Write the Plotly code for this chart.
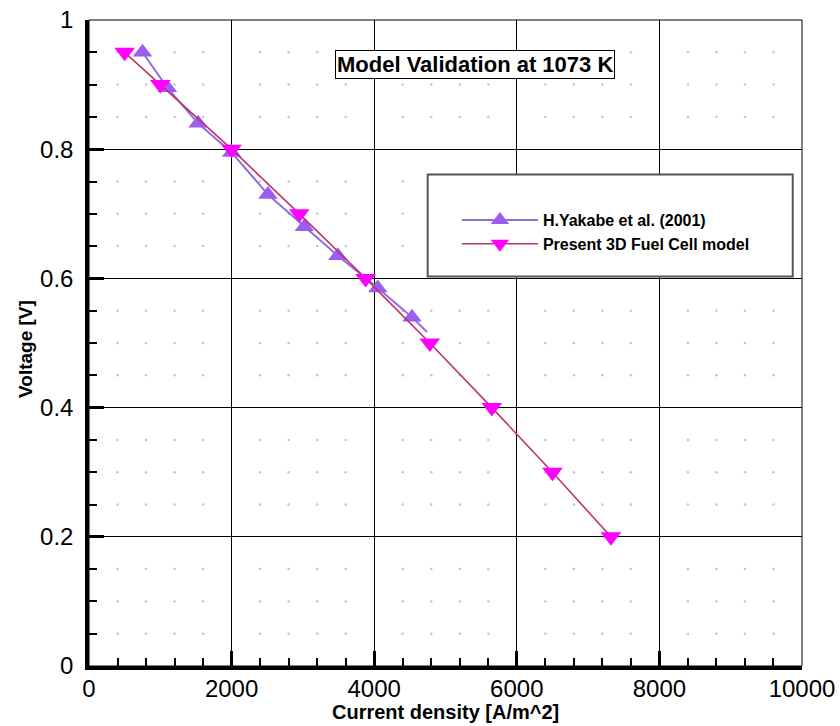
import numpy as np
import plotly.graph_objects as go

# ---- data ----
present_x = [500, 1000, 2000, 2950, 3880, 4780, 5650, 6500, 7320]
present_y = [0.95, 0.90, 0.80, 0.70, 0.60, 0.50, 0.40, 0.30, 0.20]

yakabe_x = [750, 1100, 1530, 2000, 2510, 3020, 3490, 4050, 4530]
yakabe_y = [0.95, 0.895, 0.84, 0.795, 0.73, 0.68, 0.635, 0.585, 0.54]
# end of the drawn Yakabe curve (no marker)
yakabe_end_x = [4740]
yakabe_end_y = [0.517]

x_ticks = [0, 2000, 4000, 6000, 8000, 10000]
y_ticks = [0, 0.2, 0.4, 0.6, 0.8, 1.0]

title_text = "Model Validation at 1073 K"
x_title = "Current density [A/m^2]"
y_title = "Voltage [V]"

FONT = "Liberation Sans, Arial, sans-serif"
YAK_LINE = "#8f6ee0"
YAK_MARK = "#9b5ef0"
PRE_LINE = "#c3306a"
PRE_MARK = "#ff00ff"

fig = go.Figure()

# faint dot grid at minor-tick intersections
mx = [v for v in np.arange(400, 10000, 400) if v % 2000 != 0]
my = [round(v, 2) for v in np.arange(0.05, 1.0, 0.05) if abs(v / 0.2 - round(v / 0.2)) > 1e-6]
gx, gy = np.meshgrid(mx, my)
fig.add_trace(go.Scatter(x=gx.ravel(), y=gy.ravel(), mode="markers",
                         marker=dict(size=2.5, color="#c4c4c4"),
                         hoverinfo="skip", showlegend=False))

# Yakabe curve extension past last marker
fig.add_trace(go.Scatter(x=[yakabe_x[-1]] + yakabe_end_x, y=[yakabe_y[-1]] + yakabe_end_y,
                         mode="lines", line=dict(color=YAK_LINE, width=2),
                         showlegend=False, hoverinfo="skip"))
fig.add_trace(go.Scatter(x=yakabe_x, y=yakabe_y, mode="lines+markers",
                         name="H.Yakabe et al. (2001)",
                         line=dict(color=YAK_LINE, width=2),
                         marker=dict(symbol="triangle-up", size=17, color=YAK_MARK,
                                     line=dict(width=0))))
fig.add_trace(go.Scatter(x=present_x, y=present_y, mode="lines+markers",
                         name="Present 3D Fuel Cell model",
                         line=dict(color=PRE_LINE, width=1.6),
                         marker=dict(symbol="triangle-down", size=18, color=PRE_MARK,
                                     line=dict(width=0))))

axis_common = dict(
    automargin=False,
    showgrid=True, gridcolor="black", gridwidth=1,
    zeroline=False, showline=True, linecolor="black", linewidth=3.5,
    ticks="inside", ticklen=15, tickwidth=3, tickcolor="black",
    tickfont=dict(family=FONT, size=24, color="black"),
)

fig.update_xaxes(range=[0, 10000], tickvals=x_ticks, tickformat="d",
                 ticklabelstandoff=-2,
                 minor=dict(dtick=400, ticks="inside", ticklen=8, tickwidth=1.5,
                            tickcolor="black", showgrid=False),
                 **axis_common)
fig.update_yaxes(range=[0, 1], tickvals=y_ticks,
                 ticklabelstandoff=7,
                 minor=dict(dtick=0.05, ticks="inside", ticklen=8, tickwidth=1.5,
                            tickcolor="black", showgrid=False),
                 **axis_common)

# axis titles
fig.add_annotation(x=0.5007, y=-0.0712, xref="paper", yref="paper", text=x_title,
                   showarrow=False, xanchor="center", yanchor="middle",
                   font=dict(family=FONT, size=20, color="black", weight="bold"))
fig.add_annotation(x=-0.0898, y=0.4907, xref="paper", yref="paper", text=y_title,
                   showarrow=False, xanchor="center", yanchor="middle", textangle=-90,
                   font=dict(family=FONT, size=19, color="black", weight="bold"))

# plot frame (thin top/right)
fig.add_shape(type="rect", xref="paper", yref="paper", x0=0, x1=1, y0=0, y1=1,
              line=dict(color="black", width=1), layer="below")
# legend box
fig.add_shape(type="rect", xref="paper", yref="paper", x0=0.475, x1=0.987, y0=0.603, y1=0.761,
              line=dict(color="#555555", width=2), fillcolor="white", layer="above")

fig.add_annotation(x=5410, y=0.931, xref="x", yref="y", text=title_text, showarrow=False,
                   font=dict(family=FONT, size=22, color="black", weight="bold"),
                   bgcolor="white", bordercolor="black", borderwidth=1, borderpad=1)

fig.update_layout(
    width=840, height=726,
    margin=dict(l=89, r=38, t=20, b=60, autoexpand=False),
    paper_bgcolor="white", plot_bgcolor="white",
    showlegend=True,
    legend=dict(x=0.516, y=0.7166, xanchor="left", yanchor="top",
                bgcolor="rgba(0,0,0,0)", borderwidth=0, itemwidth=76,
                font=dict(family=FONT, size=16, color="black", weight="bold"),
                tracegroupgap=0),
)

fig.write_html("out.html", config={"displayModeBar": False},
               post_script="document.body.style.margin='0';document.body.style.overflow='hidden';")
